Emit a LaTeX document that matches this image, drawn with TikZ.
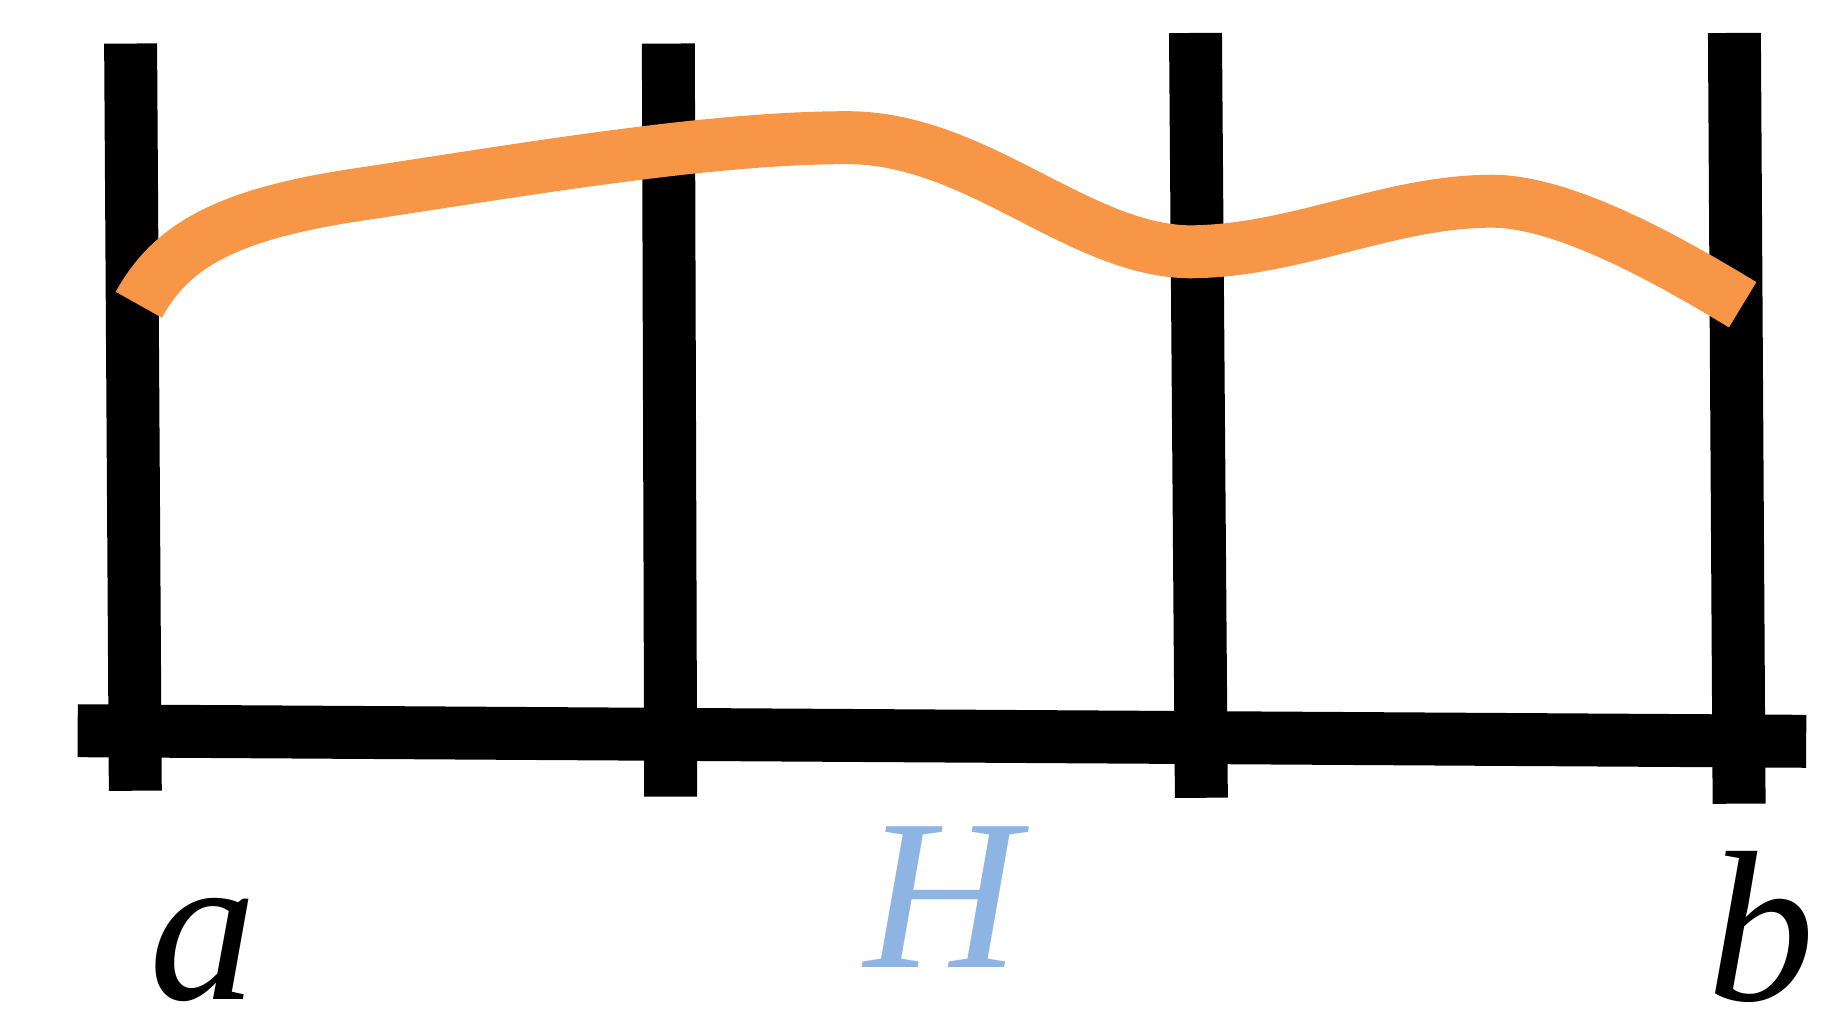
\documentclass[tikz,border=0pt]{standalone}
\usepackage{fontspec}
\setmainfont{Liberation Serif}
\usepackage{tikz}
\usetikzlibrary{positioning}
\definecolor{waveorange}{HTML}{F79646}
\definecolor{labelblue}{HTML}{8EB4E3}

\begin{document}
\begin{tikzpicture}[
      x=0.02cm, y=-0.02cm,
      bar/.style={line width=0.9cm, black},
      wave/.style={line width=0.9cm, waveorange},
      every node/.style={font=\fontsize{104}{110}\selectfont\itshape, inner sep=0pt}
    ]
      \useasboundingbox (0,0) rectangle (1568,859);
      % ends of the posts
      \coordinate (p1t) at (111,37);  \coordinate (p1b) at (115,672);
      \coordinate (p2t) at (568,37);  \coordinate (p2b) at (570,677);
      \coordinate (p3t) at (1016,28); \coordinate (p3b) at (1021,678);
      \coordinate (p4t) at (1474,28); \coordinate (p4b) at (1478,683);
      \coordinate (base l) at (66,621);
      \coordinate (base r) at (1535,630);
      \foreach \i in {1,...,4}
        \draw[bar] (p\i t) -- (p\i b);
      \draw[bar] (base l) -- (base r);
      % the curve
      \coordinate (w0) at (118,259);
      \coordinate (w1) at (300,166);
      \coordinate (w2) at (720,117);
      \coordinate (w3) at (1010,214);
      \coordinate (w4) at (1268,171);
      \coordinate (w5) at (1481,259);
      \draw[wave] (w0) .. controls (145,210) and (190,183) .. (w1)
        .. controls (440,145) and (600,117) .. (w2)
        .. controls (830,117) and (915,212) .. (w3)
        .. controls (1100,214) and (1180,171) .. (w4)
        .. controls (1330,171) and (1420,222) .. (w5);
      % labels
      \node[anchor=base] (a) at (173,849) {a};
      \node[anchor=base, text=labelblue] (H) at (801,822) {H};
      \node[anchor=base] (b) at (1497,850) {b};
    \end{tikzpicture}
\end{document}
